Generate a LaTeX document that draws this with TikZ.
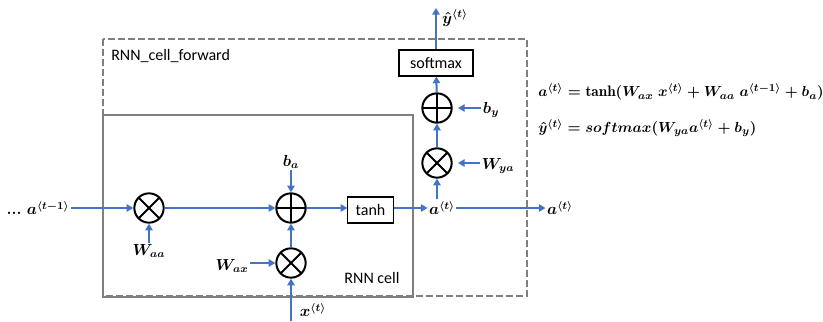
\documentclass[tikz,border=0pt]{standalone}
\usepackage{fontspec}
\setsansfont{Carlito}
\usepackage{amsmath}
\usetikzlibrary{arrows.meta}
\definecolor{flowblue}{HTML}{4472C4}
\definecolor{framegray}{HTML}{7F7F7F}
\tikzset{
  mulnode/.style={circle, draw, line width=1.5pt, minimum size=22pt, inner sep=0pt,
    path picture={\draw[line width=1.5pt] (path picture bounding box.south west) -- (path picture bounding box.north east)
      (path picture bounding box.north west) -- (path picture bounding box.south east);}},
  addnode/.style={circle, draw, line width=1.5pt, minimum size=22pt, inner sep=0pt,
    path picture={\draw[line width=1.8pt] (path picture bounding box.west) -- (path picture bounding box.east)
      (path picture bounding box.north) -- (path picture bounding box.south);}},
  opbox/.style={draw, line width=0.8pt, font=\sffamily\fontsize{12}{14}\selectfont, inner sep=0pt},
  mathlabel/.style={font=\fontsize{12}{14}\selectfont\boldmath, inner sep=1pt},
  eqlabel/.style={font=\fontsize{11.4}{14}\selectfont\boldmath, inner sep=0pt, anchor=west},
  flow/.style={draw=flowblue, line width=1.5pt, -{Triangle[length=5pt,width=5.5pt]}},
  cellframe/.style={draw=framegray, line width=1.8pt},
  forwardframe/.style={draw=framegray, line width=1.5pt, dash pattern=on 5pt off 2.5pt}
}
\begin{document}
\begin{tikzpicture}[x=0.75pt, y=-0.75pt]
  \useasboundingbox (0,0) rectangle (823,321);

  \draw[cellframe] (103,115) rectangle (413,297);
  \draw[forwardframe] (103,39) rectangle (527,296);
  \node[font=\sffamily\fontsize{12}{14}\selectfont, anchor=west, inner sep=0pt] (fwdlabel) at (111,56) {RNN\_cell\_forward};
  \node[font=\sffamily\fontsize{12}{14}\selectfont, inner sep=0pt] (celllabel) at (372,278) {RNN cell};

  \node[mathlabel] (aprev) at (38,208) {\textbf{...}\ $a^{\langle t-1\rangle}$};
  \node[mulnode] (mulaa) at (149,208) {};
  \node[mathlabel] (waa) at (149,251) {$W_{aa}$};
  \node[addnode] (adda) at (291,208) {};
  \node[mathlabel] (ba) at (291,162) {$b_a$};
  \node[opbox, minimum width=34pt, minimum height=19.5pt] (tanhbox) at (370.5,210) {tanh};
  \node[mulnode] (mulax) at (291,263) {};
  \node[mathlabel] (wax) at (232,266) {$W_{ax}$};
  \coordinate (xin) at (291,321);
  \node[mathlabel] (xt) at (313,310) {$x^{\langle t\rangle}$};
  \node[mathlabel] (at) at (442,208) {$a^{\langle t\rangle}$};
  \node[mulnode] (mulya) at (437,163) {};
  \node[mathlabel] (wya) at (498,166) {$W_{ya}$};
  \node[addnode] (addy) at (437,108) {};
  \node[mathlabel] (by) at (491,110) {$b_y$};
  \node[opbox, minimum width=55.5pt, minimum height=19.5pt] (softbox) at (436,63) {softmax};
  \coordinate (yout) at (436,8);
  \node[mathlabel] (yhat) at (455,18) {$\hat{y}^{\langle t\rangle}$};
  \node[mathlabel] (anext) at (560,208) {$a^{\langle t\rangle}$};

  \node[eqlabel] (eqa) at (538,92) {$a^{\langle t\rangle} = \tanh(W_{ax}\;x^{\langle t\rangle} + W_{aa}\;a^{\langle t-1\rangle} + b_a)$};
  \node[eqlabel] (eqy) at (538,128) {$\hat{y}^{\langle t\rangle} = softmax(W_{ya}a^{\langle t\rangle} + b_y)$};

  \draw[flow] (aprev.east) -- (mulaa);
  \draw[flow] (mulaa) -- (adda);
  \draw[flow] (waa) -- (mulaa);
  \draw[flow] (ba) -- (adda);
  \draw[flow] (mulax) -- (adda);
  \draw[flow] (wax.east |- mulax) -- (mulax);
  \draw[flow] (xin) -- (mulax);
  \draw[flow] (adda) -- (tanhbox.west |- adda);
  \draw[flow] (tanhbox.east |- at) -- (at.west);
  \draw[flow] (at.east) -- (anext.west);
  \draw[flow] (mulya |- at.north) -- (mulya);
  \draw[flow] (wya.west |- mulya) -- ([xshift=4pt]mulya.east);
  \draw[flow] (mulya) -- (addy);
  \draw[flow] (by.west |- addy) -- ([xshift=4pt]addy.east);
  \draw[flow] (addy) -- (softbox);
  \draw[flow] (softbox) -- (yout);
\end{tikzpicture}
\end{document}
